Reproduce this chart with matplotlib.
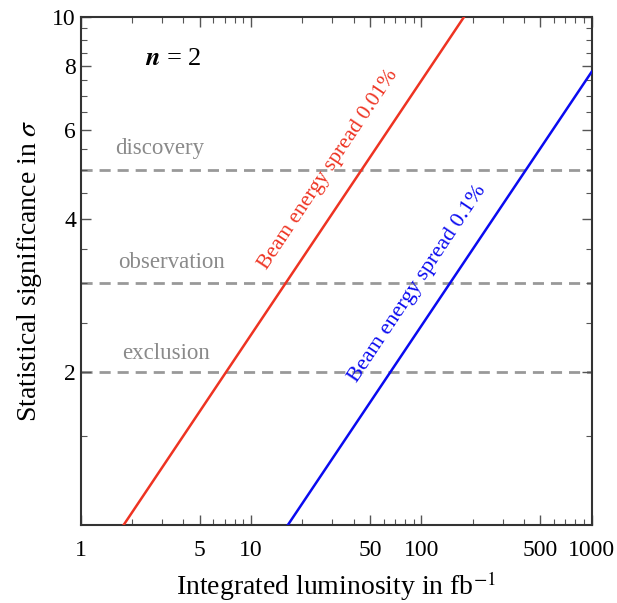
import numpy as np
import matplotlib
matplotlib.use('Agg')
import matplotlib.pyplot as plt
from matplotlib.ticker import FixedLocator, NullFormatter

plt.rcParams['font.family'] = ['Liberation Serif', 'DejaVu Serif']
plt.rcParams['mathtext.fontset'] = 'stix'

# Data (significance grows like sqrt(L))
lumi_red = [1.78, 178.0]
sig_red = [1.0, 10.0]
lumi_blue = [16.4, 1000.0]
sig_blue = [1.0, 7.8]

thresholds = [5.0, 3.0, 2.0]
threshold_names = ['discovery', 'observation', 'exclusion']
threshold_label_x = [2.91, 3.42, 3.16]
threshold_label_y = [5.52, 3.29, 2.18]

x_ticks = [1, 5, 10, 50, 100, 500, 1000]
y_ticks = [2, 4, 6, 8, 10]

fig = plt.figure(figsize=(6.17, 6.03), dpi=100)
ax = fig.add_axes([0.131, 0.129, 0.828, 0.843])
ax.set_xscale('log')
ax.set_yscale('log')
ax.set_xlim(1, 1000)
ax.set_ylim(1, 10)

gray = '#999999'
for y in thresholds:
    ax.axhline(y, color=gray, lw=2, ls=(0, (4, 2.5)), zorder=1)
for name, x, y in zip(threshold_names, threshold_label_x, threshold_label_y):
    ax.text(x, y, name, color='#8a8a8a', fontsize=16.5, ha='center', va='center')

ax.plot(lumi_red, sig_red, color='#ee3322', lw=1.8, zorder=3)
ax.plot(lumi_blue, sig_blue, color='#0a0af0', lw=1.8, zorder=3)

ax.text(28.6, 5.0, 'Beam energy spread 0.01%', color='#ee3322', fontsize=15.5,
        rotation=56.3, ha='center', va='center', rotation_mode='anchor')
ax.text(95.3, 2.99, 'Beam energy spread 0.1%', color='#0a0af0', fontsize=16,
        rotation=56.3, ha='center', va='center', rotation_mode='anchor')

ax.text(0.125, 0.918, r'$\mathbfit{n}$ = 2', transform=ax.transAxes, fontsize=19,
        ha='left', va='center')

# ticks
ax.xaxis.set_major_locator(FixedLocator(x_ticks))
ax.set_xticklabels([str(t) for t in x_ticks])
minor_x = [m * 10 ** e for e in range(3) for m in range(2, 10) if m != 5]
ax.xaxis.set_minor_locator(FixedLocator(minor_x))
ax.xaxis.set_minor_formatter(NullFormatter())

ax.yaxis.set_major_locator(FixedLocator(y_ticks))
ax.set_yticklabels([str(t) for t in y_ticks])
minor_y = [v for v in np.arange(1.5, 10.0, 0.5) if v not in y_ticks]
ax.yaxis.set_minor_locator(FixedLocator(minor_y))
ax.yaxis.set_minor_formatter(NullFormatter())

ax.tick_params(which='both', direction='in', top=True, right=True,
               color='#555555', labelsize=17)
ax.tick_params(which='major', length=7, width=1)
ax.tick_params(which='minor', length=4, width=0.8)
ax.tick_params(axis='x', pad=11)
for s in ax.spines.values():
    s.set_color('#333333')
    s.set_linewidth(1.5)

ax.set_xlabel(r'Integrated luminosity in fb$^{-1}$', fontsize=20, labelpad=6)
ax.set_ylabel(r'Statistical significance in $\sigma$', fontsize=20, labelpad=6)

fig.savefig('out.png', dpi=100)
